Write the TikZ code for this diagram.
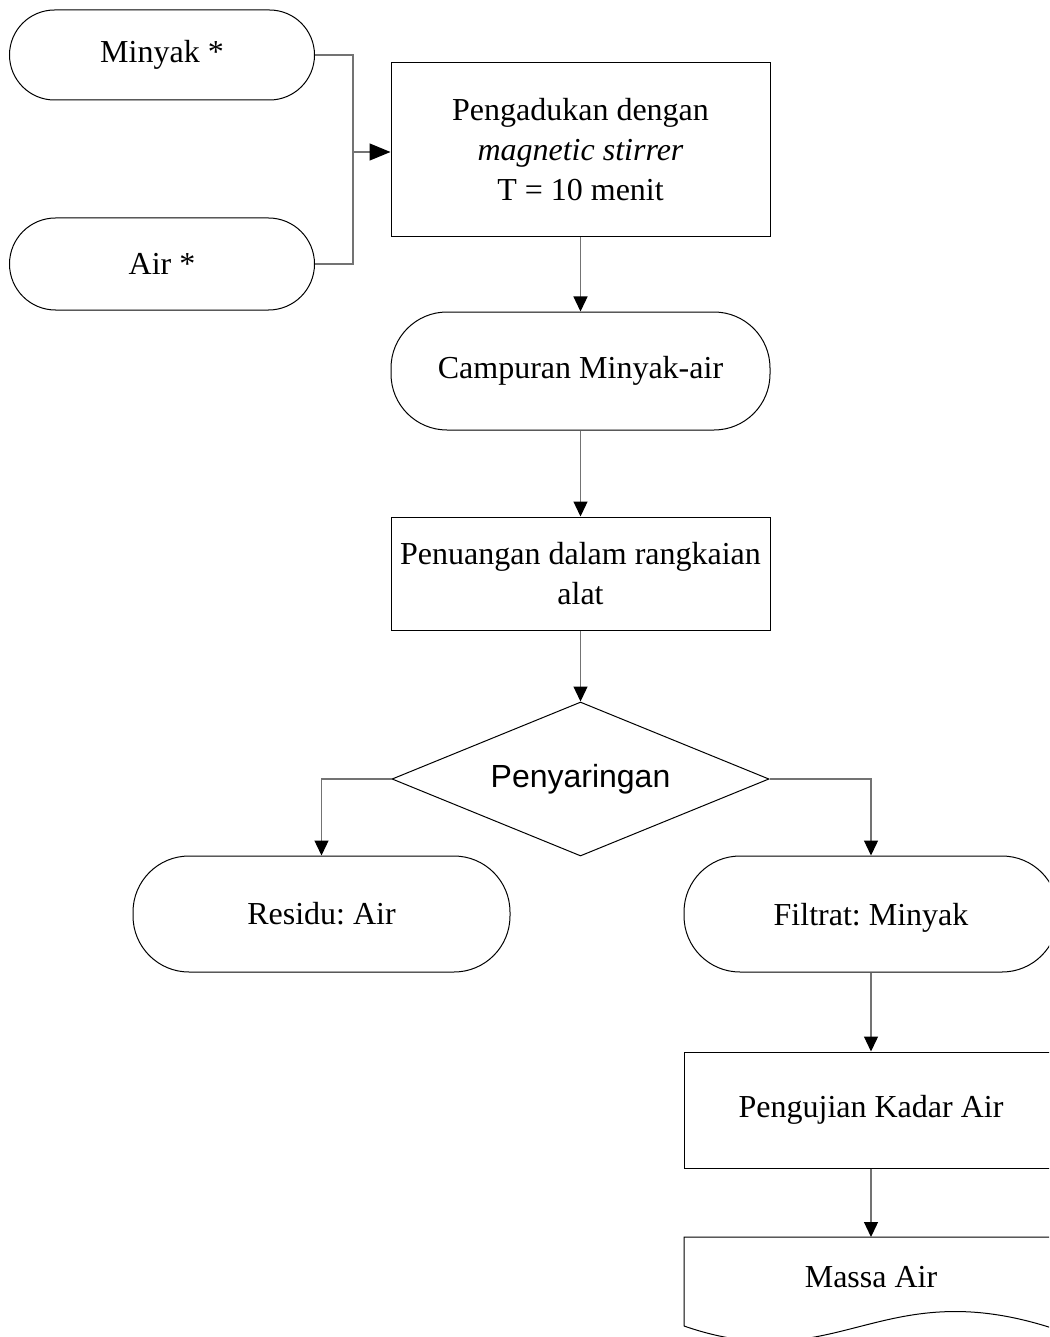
\documentclass[tikz,border=0pt]{standalone}
\usepackage{fontspec}
\setmainfont{Liberation Serif}
\newfontfamily\arialfont{Liberation Sans}
\usetikzlibrary{shapes.geometric,arrows.meta}
\frenchspacing

\begin{document}
\begin{tikzpicture}[x=1pt,y=-1pt,
  every node/.style={font=\fontsize{32}{40}\selectfont, align=center},
  shape line/.style={draw=black, line width=1pt},
  terminal/.style={shape line, rectangle, inner sep=0pt},
  procbox/.style={shape line, rectangle, inner sep=0pt},
  decision/.style={shape line, diamond, inner sep=0pt, aspect=2.45},
  link/.style={draw=black!55, line width=1.3pt},
  tipv/.style={-{Triangle[length=15pt,width=14pt,color=black,fill=black]}},
  tiph/.style={-{Triangle[length=21pt,width=17pt,color=black,fill=black]}}
]
\useasboundingbox (0,0) rectangle (1049,1337);
\clip (0,0) rectangle (1049,1337);

% inputs
\node[terminal, minimum width=305pt, minimum height=90pt, rounded corners=45pt] (minyak) at (162,55) {Minyak *};
\node[terminal, minimum width=305pt, minimum height=92pt, rounded corners=46pt] (air) at (162,264) {Air *};

% mixing step
\node[procbox, minimum width=379pt, minimum height=174pt] (aduk) at (580.5,150)
  {Pengadukan dengan\\ \textit{magnetic stirrer}\\ T = 10 menit};

\node[terminal, minimum width=379pt, minimum height=118pt, rounded corners=56pt] (campur) at (580.5,371) {Campuran Minyak-air};

\node[procbox, minimum width=379pt, minimum height=113pt] (tuang) at (580.5,573.5)
  {Penuangan dalam rangkaian\\ alat};

\node[decision, minimum width=377pt, minimum height=154pt, font=\arialfont\fontsize{32}{40}\selectfont] (saring) at (580.5,779) {Penyaringan};

% outputs of filtering
\node[terminal, minimum width=377pt, minimum height=116pt, rounded corners=56pt] (residu) at (321.5,914) {Residu: Air};
\node[terminal, minimum width=374pt, minimum height=116pt, rounded corners=56pt, text depth=0pt] (filtrat) at (871,914) {Filtrat: Minyak};

\node[procbox, minimum width=374pt, minimum height=116pt] (uji) at (871,1110) {Pengujian Kadar Air};

% document shape with wavy bottom
\node[minimum width=374pt, minimum height=80pt, inner sep=0pt] (massa) at (871,1277) {Massa Air};
\draw[shape line] (684,1326) -- (684,1237) -- (1058,1237) -- (1058,1330)
  .. controls (880,1270) and (840,1380) .. (684,1326);

% connectors
\coordinate (join) at (353,152);
\draw[link] (minyak.east) -| (join);
\draw[link] (air.east) -| (join);
\draw[link, tiph] (join) -- (aduk.west |- join);
\draw[link, tipv] (aduk.south) -- (campur.north);
\draw[link, tipv] (campur.south) -- (tuang.north);
\draw[link, tipv] (tuang.south) -- (saring.north);
\draw[link, tipv] (saring.west) -| (residu.north);
\draw[link, tipv] (saring.east) -| (filtrat.north);
\draw[link, tipv] (filtrat.south) -- (uji.north);
\draw[link, tipv] (uji.south) -- (871,1237);
\end{tikzpicture}
\end{document}
